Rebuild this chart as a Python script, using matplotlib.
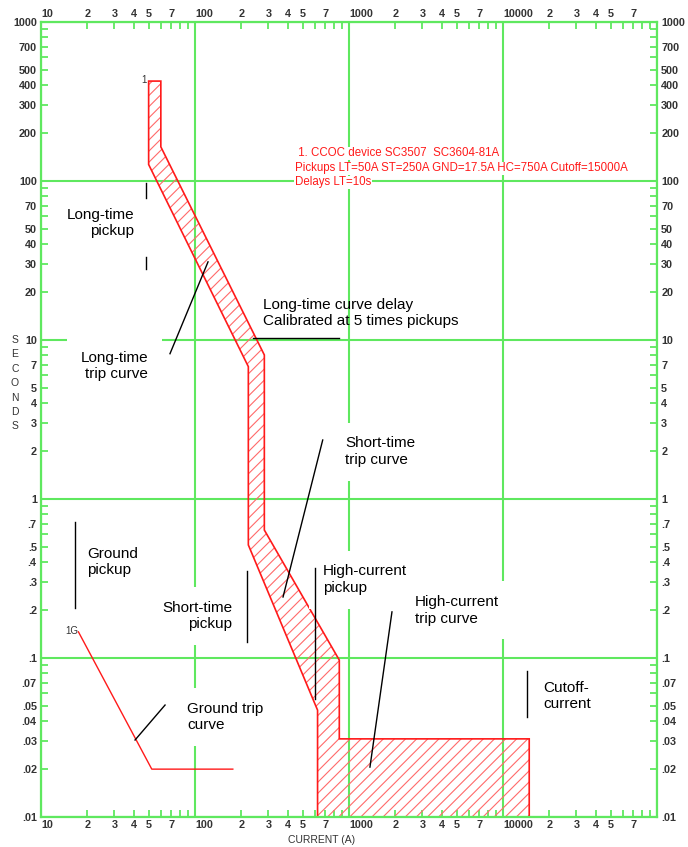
import matplotlib
matplotlib.use("Agg")
import matplotlib.pyplot as plt
import numpy as np
from matplotlib.patches import Polygon
from matplotlib.ticker import FixedLocator, FixedFormatter

plt.rcParams["font.family"] = ["Liberation Sans", "DejaVu Sans"]
plt.rcParams["hatch.linewidth"] = 0.8

GREEN = "#5fe85f"
RED = "#ff1a1a"
HATCH_RED = "#ff6a6a"
INK = "#333333"

# device 1 band (current in A, time in s), walked clockwise from the top-left corner
band_current = [50, 60, 60, 282, 282, 865, 865, 14800, 14800, 625, 625, 222, 222, 50]
band_seconds = [425, 425, 164, 8.05, 0.638, 0.097, 0.031, 0.031, 0.01, 0.01, 0.047, 0.514, 6.8, 127]

# ground trip curve
gnd_current = [17.5, 52.4, 176]
gnd_seconds = [0.146, 0.02, 0.02]

# axis ticks
x_decades = [10, 100, 1000, 10000, 100000]
x_decade_labels = ["10", "100", "1000", "10000", ""]
y_decades = [0.01, 0.1, 1, 10, 100, 1000]
y_decade_labels = [".01", ".1", "1", "10", "100", "1000"]
mults = [2, 3, 4, 5, 6, 7, 8, 9]
shown_mults = [2, 3, 4, 5, 7]

device_note = [
    " 1. CCOC device SC3507  SC3604-81A",
    "Pickups LT=50A ST=250A GND=17.5A HC=750A Cutoff=15000A",
    "Delays LT=10s",
]
device_note_y = [149.4, 120.2, 98.1]

# callouts: text, x, y, alignment, white box behind
callouts = [
    ("Long-time\npickup", 40.2, 54.4, "right", True),
    ("Long-time\ntrip curve", 49.5, 6.86, "right", True),
    ("Long-time curve delay\nCalibrated at 5 times pickups", 276, 14.8, "left", False),
    ("Short-time\ntrip curve", 942, 1.98, "left", True),
    ("Ground\npickup", 19.9, 0.402, "left", True),
    ("Short-time\npickup", 174, 0.184, "right", True),
    ("High-current\npickup", 678, 0.31, "left", True),
    ("High-current\ntrip curve", 2683, 0.200, "left", True),
    ("Ground trip\ncurve", 88.7, 0.0426, "left", True),
    ("Cutoff-\ncurrent", 18200, 0.0577, "left", True),
]

# leader lines: ((x0, x1), (y0, y1))
leaders = [
    ((48, 48), (97.6, 78.2)),
    ((48, 48), (33.3, 28.0)),
    ((68.8, 121.5), (8.2, 31.0)),
    ((238, 861), (10.3, 10.3)),
    ((675, 373), (2.35, 0.242)),
    ((16.6, 16.6), (0.716, 0.206)),
    ((216, 216), (0.352, 0.126)),
    ((601, 601), (0.368, 0.0552)),
    ((1901, 1368), (0.195, 0.0206)),
    ((63.9, 40.8), (0.0506, 0.0305)),
    ((14380, 14380), (0.0832, 0.0428)),
]

W, H = 688, 847
fig = plt.figure(figsize=(W / 100, H / 100), dpi=100)
ax = fig.add_axes([41 / W, (H - 817) / H, (657 - 41) / W, (817 - 22) / H])
ax.set_xscale("log")
ax.set_yscale("log")
ax.set_xlim(10, 100000)
ax.set_ylim(0.01, 1000)

# ticks and labels
x_minor = [m * d for d in x_decades[:-1] for m in mults]
x_minor_labels = [str(m) if m in shown_mults else "" for d in x_decades[:-1] for m in mults]


def ylab(v):
    s = f"{v:g}"
    return s[1:] if s.startswith("0.") else s


y_minor = [m * d for d in y_decades[:-1] for m in mults]
y_minor_labels = [ylab(m * d) if m in shown_mults else "" for d in y_decades[:-1] for m in mults]

ax.xaxis.set_major_locator(FixedLocator(x_decades))
ax.xaxis.set_major_formatter(FixedFormatter(x_decade_labels))
ax.xaxis.set_minor_locator(FixedLocator(x_minor))
ax.xaxis.set_minor_formatter(FixedFormatter(x_minor_labels))
ax.yaxis.set_major_locator(FixedLocator(y_decades))
ax.yaxis.set_major_formatter(FixedFormatter(y_decade_labels))
ax.yaxis.set_minor_locator(FixedLocator(y_minor))
ax.yaxis.set_minor_formatter(FixedFormatter(y_minor_labels))

ax.tick_params(which="both", direction="in", colors=GREEN, labelcolor=INK,
               labelsize=7.8, top=True, right=True, labeltop=True, labelright=True)
ax.tick_params(which="major", length=0)
ax.tick_params(which="minor", length=5, width=1.3)
ax.tick_params(axis="x", which="both", pad=2.5)
ax.tick_params(axis="y", which="both", pad=3)

for tick in ax.xaxis.get_major_ticks():
    tick.label1.set_horizontalalignment("left")
    tick.label2.set_horizontalalignment("left")
for lbl in ax.get_xticklabels(which="both") + ax.get_yticklabels(which="both"):
    lbl.set_fontweight("bold")

for s in ax.spines.values():
    s.set_color(GREEN)
    s.set_linewidth(1.6)
ax.grid(which="major", color=GREEN, linewidth=1.5)

# band
pts = np.column_stack([band_current, band_seconds])
ax.add_patch(Polygon(pts, closed=True, fill=False, hatch="///", edgecolor=HATCH_RED,
                     linewidth=0, zorder=2))
ax.add_patch(Polygon(pts, closed=True, fill=False, edgecolor=RED, linewidth=1.2,
                     zorder=2.5, clip_on=False))
ax.text(48.3, 402, "1", ha="right", va="bottom", fontsize=7, color=INK)

# ground curve
ax.plot(gnd_current, gnd_seconds, color=RED, linewidth=1.0, zorder=2.5)
ax.text(17.4, 0.148, "1G", ha="right", va="center", fontsize=7, color=INK)

for line, yv in zip(device_note, device_note_y):
    ax.text(446, yv, line, ha="left", va="center", fontsize=8.3, color=RED, zorder=3,
            bbox=dict(facecolor="white", edgecolor="none", pad=0.5))

for txt, xv, yv, ha, boxed in callouts:
    kw = {}
    if boxed:
        kw["bbox"] = dict(facecolor="white", edgecolor="none", boxstyle="square,pad=0.9")
    ax.text(xv, yv, txt, ha=ha, va="center", multialignment=ha, fontsize=11,
            color="black", linespacing=1.25, zorder=3, **kw)

for xs, ys in leaders:
    ax.plot(xs, ys, color="black", linewidth=1.0, zorder=5)

# axis titles
fig.text(322 / W, 1 - 840 / H, "CURRENT (A)", ha="center", va="center", fontsize=7.5, color=INK)
for i, ch in enumerate("SECONDS"):
    fig.text(15 / W, 1 - (340 + 14.4 * i) / H, ch, ha="center", va="center",
             fontsize=7.5, color=INK)

fig.savefig("out.png", dpi=100, facecolor="white")
